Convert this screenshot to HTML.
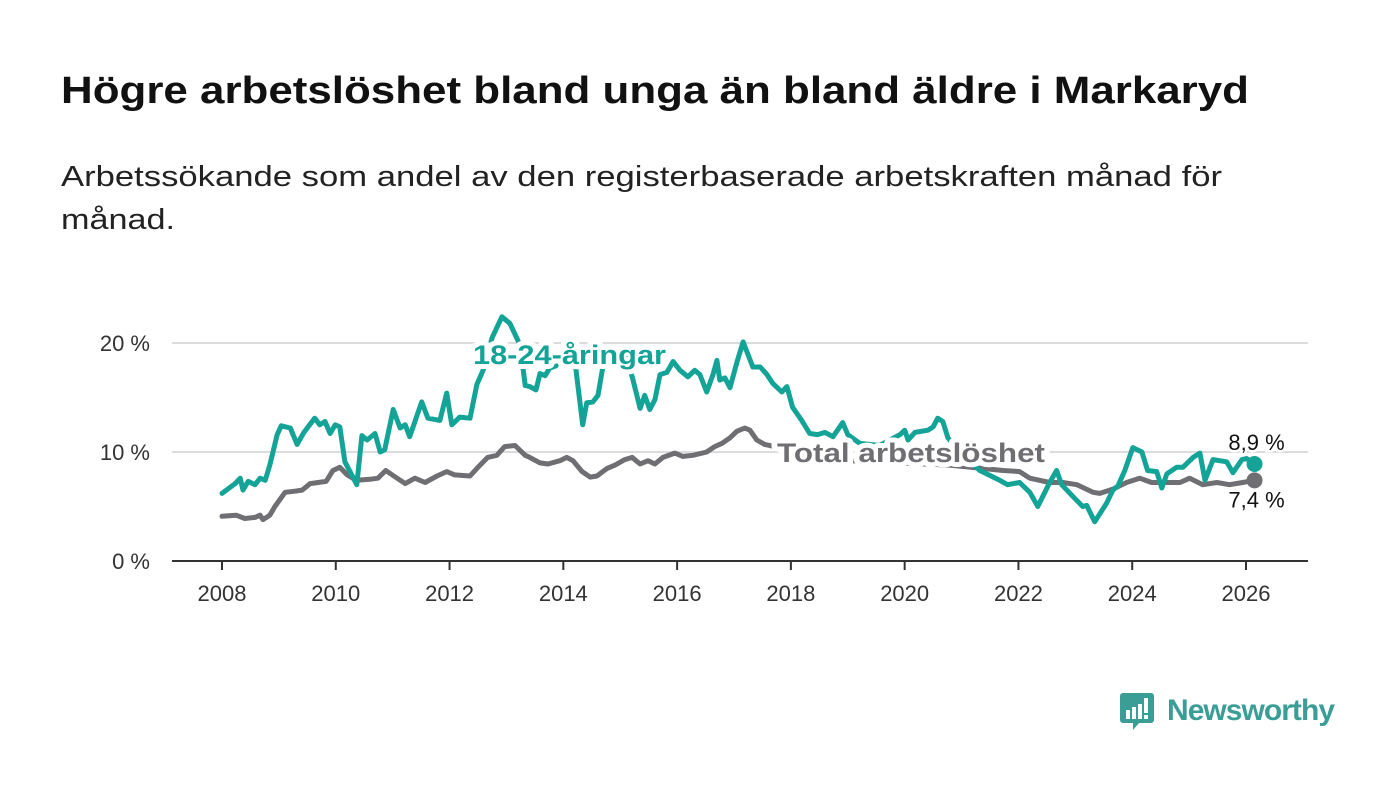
<!DOCTYPE html>
<html><head><meta charset="utf-8">
<style>
html,body{margin:0;padding:0;background:#fff;}
body{width:1400px;height:794px;position:relative;overflow:hidden;font-family:"Liberation Sans",sans-serif;}
svg{position:absolute;left:0;top:0;}
</style></head>
<body>
<svg width="1400" height="794">
  <text x="61" y="103" font-size="38" font-weight="bold" fill="#111" textLength="1188" lengthAdjust="spacingAndGlyphs" font-family="Liberation Sans, sans-serif">Högre arbetslöshet bland unga än bland äldre i Markaryd</text>
  <text font-size="29" fill="#222" font-family="Liberation Sans, sans-serif"><tspan x="61" y="186" textLength="1161" lengthAdjust="spacingAndGlyphs">Arbetssökande som andel av den registerbaserade arbetskraften månad för</tspan><tspan x="61" y="229" textLength="114" lengthAdjust="spacingAndGlyphs">månad.</tspan></text>
</svg>
<svg id="chart" width="1400" height="794"></svg>
<script>
const xTicks=[2008,2010,2012,2014,2016,2018,2020,2022,2024,2026];
const yTicks=[0,10,20];
const yTickLabels=["0 %","10 %","20 %"];
const youthYears=[2008.00,2008.23,2008.32,2008.37,2008.46,2008.58,2008.67,2008.76,2008.84,2008.97,2009.04,2009.20,2009.32,2009.44,2009.63,2009.72,2009.81,2009.90,2009.99,2010.07,2010.16,2010.37,2010.46,2010.55,2010.69,2010.78,2010.86,2011.01,2011.13,2011.22,2011.30,2011.51,2011.62,2011.83,2011.95,2012.04,2012.18,2012.36,2012.48,2012.59,2012.75,2012.92,2013.06,2013.24,2013.33,2013.41,2013.52,2013.59,2013.68,2013.76,2013.87,2014.03,2014.20,2014.34,2014.41,2014.52,2014.61,2014.70,2014.85,2015.08,2015.21,2015.35,2015.43,2015.52,2015.61,2015.70,2015.82,2015.93,2016.05,2016.19,2016.31,2016.40,2016.52,2016.63,2016.70,2016.75,2016.84,2016.93,2017.05,2017.16,2017.33,2017.46,2017.58,2017.68,2017.84,2017.93,2018.03,2018.19,2018.33,2018.47,2018.60,2018.74,2018.91,2019.00,2019.21,2019.56,2019.92,2020.00,2020.06,2020.18,2020.41,2020.50,2020.58,2020.67,2020.76,2020.97,2021.32,2021.67,2021.81,2022.02,2022.20,2022.34,2022.55,2022.67,2022.76,2022.96,2023.13,2023.20,2023.34,2023.55,2023.66,2023.75,2023.87,2024.01,2024.17,2024.27,2024.43,2024.52,2024.61,2024.78,2024.89,2025.07,2025.19,2025.28,2025.42,2025.66,2025.77,2025.93,2026.01,2026.15];
const youthValues=[6.2,7.1,7.6,6.5,7.3,7.0,7.6,7.4,8.8,11.6,12.4,12.2,10.7,11.8,13.1,12.5,12.8,11.7,12.5,12.3,9.1,7.0,11.5,11.1,11.7,10.0,10.2,13.9,12.2,12.5,11.4,14.6,13.1,12.9,15.4,12.5,13.2,13.1,16.2,17.5,20.5,22.4,21.8,19.8,16.1,16.0,15.7,17.2,17.0,17.7,17.9,19.5,18.5,12.5,14.5,14.6,15.2,18.0,19.5,19.0,16.9,14.0,15.2,13.9,14.8,17.1,17.3,18.3,17.5,16.9,17.5,17.1,15.5,17.1,18.4,16.6,16.8,15.9,18.2,20.1,17.8,17.8,17.1,16.3,15.5,16.0,14.1,12.9,11.7,11.6,11.8,11.4,12.7,11.6,10.8,10.6,11.6,12.0,11.1,11.8,12.0,12.3,13.1,12.8,11.3,10.0,8.3,7.4,7.0,7.2,6.3,5.0,7.2,8.3,7.0,5.9,5.0,5.1,3.6,5.3,6.5,6.9,8.3,10.4,10.0,8.3,8.2,6.7,8.0,8.6,8.6,9.5,9.9,7.4,9.3,9.1,8.1,9.3,9.4,8.9];
const totalYears=[2008.00,2008.25,2008.40,2008.58,2008.67,2008.72,2008.84,2008.93,2009.11,2009.28,2009.41,2009.55,2009.69,2009.83,2009.95,2010.07,2010.20,2010.36,2010.60,2010.74,2010.88,2011.02,2011.22,2011.39,2011.57,2011.78,2011.95,2012.09,2012.36,2012.48,2012.67,2012.83,2012.97,2013.15,2013.33,2013.41,2013.59,2013.73,2013.94,2014.06,2014.17,2014.33,2014.47,2014.59,2014.77,2014.91,2015.08,2015.21,2015.35,2015.49,2015.61,2015.75,2015.96,2016.10,2016.28,2016.52,2016.66,2016.79,2016.93,2017.05,2017.19,2017.28,2017.40,2017.54,2018.16,2019.04,2019.92,2020.79,2021.73,2022.02,2022.20,2022.55,2022.78,2023.03,2023.31,2023.43,2023.66,2023.90,2024.13,2024.34,2024.61,2024.84,2025.01,2025.24,2025.49,2025.71,2025.94,2026.15];
const totalValues=[4.1,4.2,3.9,4.0,4.2,3.8,4.2,5.0,6.3,6.4,6.5,7.1,7.2,7.3,8.3,8.6,7.9,7.4,7.5,7.6,8.3,7.8,7.1,7.6,7.2,7.8,8.2,7.9,7.8,8.5,9.5,9.7,10.5,10.6,9.7,9.5,9.0,8.9,9.2,9.5,9.2,8.2,7.7,7.8,8.5,8.8,9.3,9.5,8.9,9.2,8.9,9.5,9.9,9.6,9.7,10.0,10.5,10.8,11.3,11.9,12.2,12.0,11.1,10.7,10.0,9.2,9.0,8.8,8.3,8.2,7.6,7.2,7.2,7.0,6.3,6.2,6.6,7.2,7.6,7.2,7.2,7.2,7.6,7.0,7.2,7.0,7.2,7.4];

const svg=document.getElementById('chart');
const NS='http://www.w3.org/2000/svg';
const X=y=>222+(y-2008)*(1246-222)/18;
const Y=v=>561-v*10.9;
function mk(tag,attrs,parent){const e=document.createElementNS(NS,tag);for(const k in attrs)e.setAttribute(k,attrs[k]);(parent||svg).appendChild(e);return e;}

yTicks.forEach((t,i)=>{
  if(t>0){const g=mk('line',{x1:172,x2:1308,y1:Y(t),y2:Y(t),stroke:'#dcdcdc','stroke-width':2});
  
  }
  const l=mk('text',{x:150,y:Y(t)+8,'text-anchor':'end','font-size':22,fill:'#333','font-family':'Liberation Sans, sans-serif'});
  l.textContent=yTickLabels[i];
  
  
});
const ax=mk('line',{x1:172,x2:1308,y1:561,y2:561,stroke:'#333','stroke-width':2});


xTicks.forEach(t=>{
  const tk=mk('line',{x1:X(t),x2:X(t),y1:561,y2:570,stroke:'#333','stroke-width':2});
  
  
  const l=mk('text',{x:X(t),y:601,'text-anchor':'middle','font-size':22,fill:'#333','font-family':'Liberation Sans, sans-serif'});
  l.textContent=t;
  
  
});
function line(xs,vs,color,name){
  const d=xs.map((x,i)=>(i?'L':'M')+X(x).toFixed(1)+','+Y(vs[i]).toFixed(1)).join('');
  const p=mk('path',{d:d,fill:'none',stroke:color,'stroke-width':5,'stroke-linejoin':'round','stroke-linecap':'round'});
  
  
}
const GREEN='#14a397',GRAY='#6f6e73';
line(totalYears,totalValues,GRAY,'total-line');
line(youthYears,youthValues,GREEN,'youth-line');
function lab(x,y,txt,color,name,len){
  const t=mk('text',{x:x,y:y,'font-size':27,'font-weight':'bold',fill:color,stroke:'#fff','stroke-width':10,'paint-order':'stroke','stroke-linejoin':'round','font-family':'Liberation Sans, sans-serif',textLength:len,lengthAdjust:'spacingAndGlyphs'});
  t.textContent=txt;
  
  
}
lab(473,364,'18-24-åringar',GREEN,'youth-series-label',193);
lab(777,462,'Total arbetslöshet',GRAY,'total-series-label',268);
const ly=youthYears[youthYears.length-1],lv=youthValues[youthValues.length-1];
const ty=totalYears[totalYears.length-1],tv=totalValues[totalValues.length-1];
const d1=mk('circle',{cx:X(ty),cy:Y(tv),r:8,fill:GRAY});


const d2=mk('circle',{cx:X(ly),cy:Y(lv),r:8,fill:GREEN});


function endLab(x,y,txt,name){
  const t=mk('text',{x:x,y:y,'text-anchor':'middle','font-size':22,fill:'#111',stroke:'#fff','stroke-width':5,'paint-order':'stroke','font-family':'Liberation Sans, sans-serif'});
  t.textContent=txt;
  
  
}
endLab(X(ly)+2,Y(lv)-14,lv.toFixed(1).replace('.',',')+' %','youth-end-value');
endLab(X(ty)+2,Y(tv)+27,tv.toFixed(1).replace('.',',')+' %','total-end-value');
</script>
<svg width="1400" height="794" style="position:absolute;left:0;top:0;pointer-events:none">
  <path d="M1123,693 h28 a3,3 0 0 1 3,3 v24 a3,3 0 0 1 -3,3 h-12 l-6,7 v-7 h-10 a3,3 0 0 1 -3,-3 v-24 a3,3 0 0 1 3,-3z" fill="#3a9e96"/>
  <rect x="1126" y="710" width="4" height="9" fill="#fff"/>
  <rect x="1132" y="707" width="4" height="12" fill="#fff"/>
  <rect x="1138" y="704" width="4" height="15" fill="#fff"/>
  <rect x="1144" y="698" width="4" height="15" fill="#fff"/>
  <rect x="1144" y="715" width="4" height="4" fill="#fff"/>
  <text x="1167" y="720" font-size="30" font-weight="bold" fill="#3a9e96" font-family="Liberation Sans, sans-serif" textLength="168">Newsworthy</text>
</svg>
</body></html>
